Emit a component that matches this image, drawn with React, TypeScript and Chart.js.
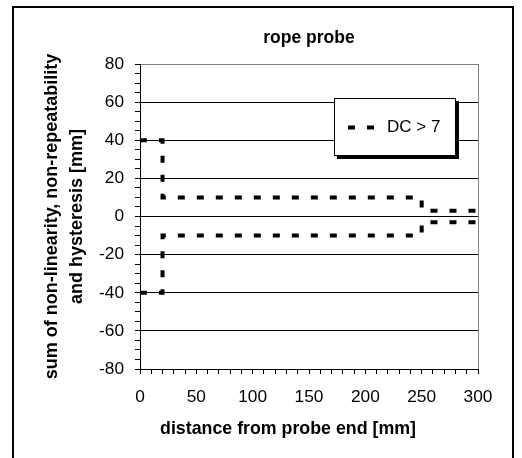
import React, { useEffect, useRef } from "react";
import { Chart, registerables } from "chart.js";

Chart.register(...registerables);

const chartTitle = "rope probe";
const xAxisTitle = "distance from probe end [mm]";
const yAxisTitle = ["sum of non-linearity, non-repeatability", "and hysteresis [mm]"];
const legendLabel = "DC > 7";

const upperX = [0, 20, 20, 250, 250, 300];
const upperY = [40, 40, 10, 10, 3, 3];
const lowerX = [0, 20, 20, 250, 250, 300];
const lowerY = [-40, -40, -10, -10, -3, -3];

const xMin = 0;
const xMax = 300;
const xStep = 10;
const xLabelStep = 50;
const yMin = -80;
const yMax = 80;
const yStep = 5;
const yLabelStep = 20;

const FONT = "'Liberation Sans', Arial, sans-serif";
const DASH = [7, 12];

const decorPlugin = {
  id: "decor",
  beforeDraw(chart: any) {
    const ctx = chart.ctx;
    ctx.save();
    ctx.fillStyle = "#fff";
    ctx.fillRect(0, 0, chart.width, chart.height);
    ctx.strokeStyle = "#000";
    ctx.lineWidth = 2;
    ctx.strokeRect(13, 7, 500, 500);
    ctx.restore();
  },
  afterDraw(chart: any) {
    const ctx = chart.ctx;
    const a = chart.chartArea;
    const cx = (a.left + a.right) / 2;
    ctx.save();
    ctx.fillStyle = "#000";
    ctx.textBaseline = "middle";
    ctx.textAlign = "center";
    ctx.font = `bold 17.5px ${FONT}`;
    ctx.fillText(chartTitle, cx, 38);
    ctx.font = `bold 17.8px ${FONT}`;
    ctx.fillText(xAxisTitle, cx - 21, 429);

    // legend box
    const bx = a.right - 144;
    const by = a.top + 34;
    const bw = 122;
    const bh = 58;
    ctx.fillStyle = "#000";
    ctx.fillRect(bx + 3, by + 3, bw, bh);
    ctx.fillStyle = "#fff";
    ctx.fillRect(bx, by, bw, bh);
    ctx.strokeStyle = "#000";
    ctx.lineWidth = 1;
    ctx.strokeRect(bx + 0.5, by + 0.5, bw - 1, bh - 1);
    const ds = chart.data.datasets[0];
    const ly = by + 29.5;
    ctx.beginPath();
    ctx.setLineDash(ds.borderDash);
    ctx.lineWidth = ds.borderWidth;
    ctx.strokeStyle = ds.borderColor;
    ctx.moveTo(bx + 14, ly);
    ctx.lineTo(bx + 40, ly);
    ctx.stroke();
    ctx.setLineDash([]);
    ctx.fillStyle = "#000";
    ctx.textAlign = "left";
    ctx.font = `17px ${FONT}`;
    ctx.fillText(ds.label, bx + 53, ly);
    ctx.restore();
  },
};

export default function App() {
  const ref = useRef<HTMLCanvasElement | null>(null);
  useEffect(() => {
    if (!ref.current) return;
    const mk = (xs: number[], ys: number[]) => xs.map((x, i) => ({ x, y: ys[i] }));
    const common = {
      borderColor: "#000",
      borderWidth: 4,
      borderDash: DASH,
      borderCapStyle: "butt",
      borderJoinStyle: "miter",
      pointRadius: 0,
      fill: false,
      tension: 0,
    };
    const chart = new Chart(ref.current, {
      type: "line",
      data: {
        datasets: [
          { label: legendLabel, data: mk(upperX, upperY), ...common } as any,
          { label: legendLabel, data: mk(lowerX, lowerY), ...common } as any,
        ],
      },
      options: {
        animation: false,
        responsive: false,
        layout: { padding: { top: 64, right: 44, bottom: 0, left: 0 } },
        plugins: {
          legend: { display: false },
          title: { display: false },
          tooltip: { enabled: false },
        },
        scales: {
          x: {
            type: "linear",
            min: xMin,
            max: xMax,
            ticks: {
              stepSize: xStep,
              autoSkip: false,
              maxRotation: 0,
              padding: 13,
              color: "#000",
              font: { family: FONT, size: 17.3 },
              callback: (v: any) => (v % xLabelStep === 0 ? String(v) : ""),
            },
            grid: {
              color: (c: any) => (c.tick && c.tick.value === xMax ? "#808080" : "rgba(0,0,0,0)"),
              tickColor: "#000",
              tickLength: 5,
              lineWidth: 1,
            },
            border: { color: "#000", width: 1 },
            afterFit: (s: any) => {
              s.height = 89;
            },
          },
          y: {
            type: "linear",
            min: yMin,
            max: yMax,
            ticks: {
              stepSize: yStep,
              autoSkip: false,
              padding: 11,
              color: "#000",
              font: { family: FONT, size: 17.3 },
              callback: (v: any) => (v % yLabelStep === 0 ? String(v) : ""),
            },
            grid: {
              color: (c: any) => {
                const v = c.tick ? c.tick.value : 0;
                if (v % yLabelStep !== 0) return "rgba(0,0,0,0)";
                return v === yMax ? "#808080" : "#000";
              },
              tickColor: "#000",
              tickLength: 5,
              lineWidth: 1,
            },
            border: { color: "#000", width: 1 },
            title: {
              display: true,
              text: yAxisTitle,
              color: "#000",
              font: { family: FONT, size: 18, weight: "bold", lineHeight: 1.4 },
              padding: { top: 39, bottom: 0 },
            },
            afterFit: (s: any) => {
              s.width = 140;
            },
          },
        },
      } as any,
      plugins: [decorPlugin],
    });
    return () => chart.destroy();
  }, []);
  return (
    <div style={{ position: "absolute", left: 0, top: 0, width: 522, height: 458 }}>
      <canvas ref={ref} width={522} height={458} style={{ width: 522, height: 458 }} />
    </div>
  );
}
